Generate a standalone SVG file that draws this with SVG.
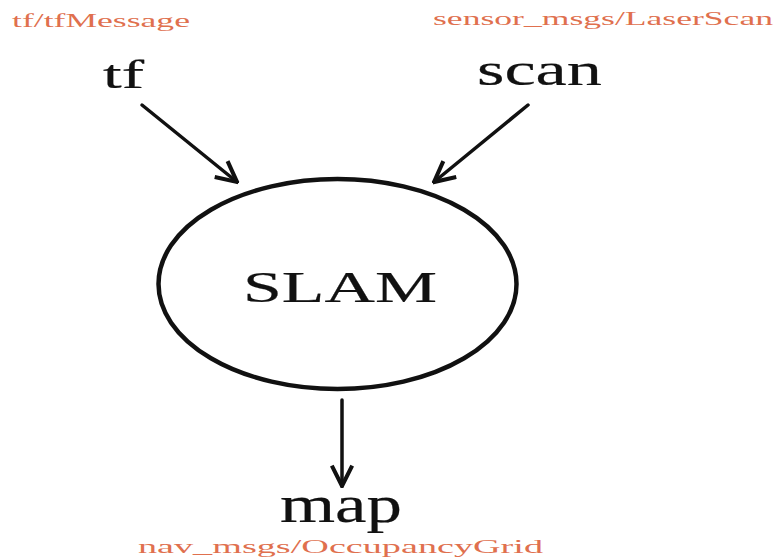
<svg xmlns="http://www.w3.org/2000/svg" width="779" height="558" viewBox="0 0 779 558">
<style>
.big{font-family:"Liberation Serif","Times New Roman",serif;fill:#111;stroke:#111;stroke-width:0.2;}
.msg{font-family:"Liberation Serif","Times New Roman",serif;fill:#e0704e;font-size:19px;}
.edge{stroke:#111;stroke-width:3.5;fill:none;stroke-linecap:round;}
</style>
<defs>
<marker id="arr" viewBox="0 0 12 12" refX="11" refY="6" markerWidth="7" markerHeight="7" orient="auto" markerUnits="strokeWidth">
<polyline points="1,1 11,6 1,11" fill="none" stroke="#111" stroke-width="2" stroke-linejoin="miter"/>
</marker>
</defs>
<rect width="779" height="558" fill="#fff"/>
<g id="connectors">
<line class="edge" x1="142" y1="105" x2="237" y2="182" marker-end="url(#arr)"/>
<line class="edge" x1="528" y1="105" x2="434" y2="182" marker-end="url(#arr)"/>
<line class="edge" x1="342" y1="400" x2="342" y2="486" marker-end="url(#arr)"/>
</g>
<g id="slam">
<ellipse cx="337.5" cy="284" rx="179" ry="105" fill="#fff" stroke="#111" stroke-width="4.5"/>
<text class="big" x="243" y="302" font-size="45" textLength="194" lengthAdjust="spacingAndGlyphs">SLAM</text>
</g>
<g id="tf">
<text class="big" x="103" y="88" font-size="41" textLength="41" lengthAdjust="spacingAndGlyphs">tf</text>
<text class="msg" x="12" y="27" textLength="178" lengthAdjust="spacingAndGlyphs">tf/tfMessage</text>
</g>
<g id="scan">
<text class="big" x="477" y="85" font-size="47" textLength="125" lengthAdjust="spacingAndGlyphs">scan</text>
<text class="msg" x="433" y="25" textLength="340" lengthAdjust="spacingAndGlyphs">sensor_msgs/LaserScan</text>
</g>
<g id="map">
<text class="big" x="280" y="522" font-size="52" textLength="122" lengthAdjust="spacingAndGlyphs">map</text>
<text class="msg" x="138" y="553" textLength="405" lengthAdjust="spacingAndGlyphs">nav_msgs/OccupancyGrid</text>
</g>
</svg>
